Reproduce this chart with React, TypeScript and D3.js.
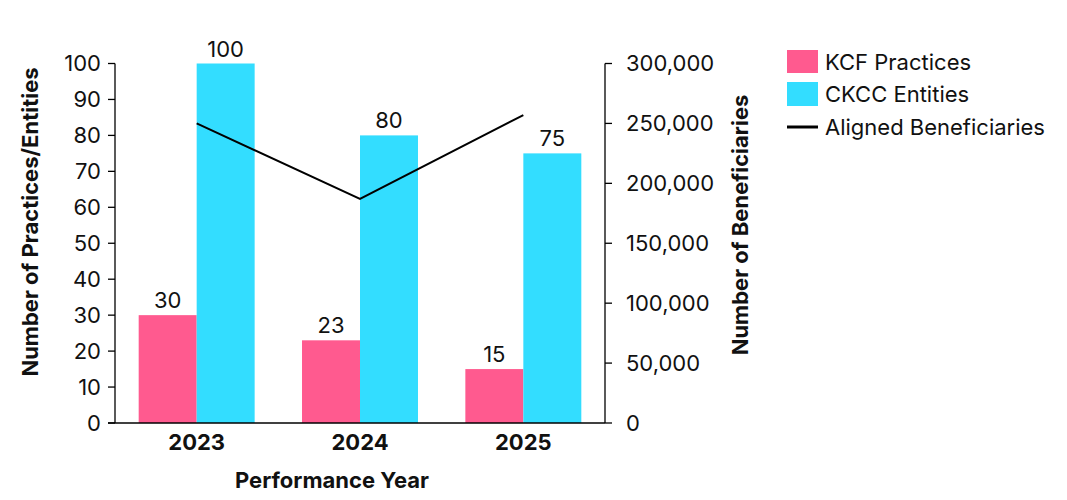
import * as d3 from 'd3'

const YEARS = ['2023', '2024', '2025']
const KCF_PRACTICES = [30, 23, 15]
const CKCC_ENTITIES = [100, 80, 75]
const ALIGNED_BENEFICIARIES = [250000, 187000, 257000]
const LEFT_TICKS = [0, 10, 20, 30, 40, 50, 60, 70, 80, 90, 100]
const RIGHT_TICKS = [0, 50000, 100000, 150000, 200000, 250000, 300000]

const PINK = '#ff5a8f'
const CYAN = '#33ddff'
const FONT = 'Inter, "Noto Sans", sans-serif'
const FS = 22

const WIDTH = 1067
const HEIGHT = 500
const PLOT_LEFT = 115
const PLOT_RIGHT = 605
const PLOT_TOP = 63.5
const PLOT_BOTTOM = 423

export default function App() {
  const x = d3.scaleBand<string>().domain(YEARS).range([PLOT_LEFT, PLOT_RIGHT])
  const bw = x.bandwidth()
  const barWidth = bw * 0.355
  const yLeft = d3.scaleLinear().domain([0, 100]).range([PLOT_BOTTOM, PLOT_TOP])
  const yRight = d3.scaleLinear().domain([0, 300000]).range([PLOT_BOTTOM, PLOT_TOP])
  const fmt = d3.format(',')

  const line = d3
    .line<number>()
    .x((_, i) => (x(YEARS[i]) ?? 0) + bw / 2)
    .y((d) => yRight(d))

  const series = [
    { values: KCF_PRACTICES, color: PINK, offset: -1 },
    { values: CKCC_ENTITIES, color: CYAN, offset: 0 },
  ]

  return (
    <svg
      width={WIDTH}
      height={HEIGHT}
      style={{ position: 'absolute', left: 0, top: 0, fontFamily: FONT }}
    >
      <rect width={WIDTH} height={HEIGHT} fill="#fff" />

      {/* bars + value labels */}
      {series.map((s) =>
        s.values.map((v, i) => {
          const cx = (x(YEARS[i]) ?? 0) + bw / 2
          const bx = cx + s.offset * barWidth
          return (
            <g key={`${s.color}-${i}`}>
              <rect
                x={bx}
                y={yLeft(v)}
                width={barWidth}
                height={PLOT_BOTTOM - yLeft(v)}
                fill={s.color}
              />
              <text
                x={bx + barWidth / 2}
                y={yLeft(v) - 7}
                textAnchor="middle"
                fontSize={FS}
                fill="#111"
              >
                {v}
              </text>
            </g>
          )
        })
      )}

      {/* line */}
      <path d={line(ALIGNED_BENEFICIARIES) ?? ''} fill="none" stroke="#000" strokeWidth={2} />

      {/* bottom axis */}
      <line x1={108} x2={PLOT_RIGHT} y1={PLOT_BOTTOM} y2={PLOT_BOTTOM} stroke="#000" strokeWidth={1.3} />
      {YEARS.map((yr) => (
        <text
          key={yr}
          x={(x(yr) ?? 0) + bw / 2}
          y={450}
          textAnchor="middle"
          fontSize={FS}
          fontWeight={700}
          fill="#111"
        >
          {yr}
        </text>
      ))}
      <text x={332} y={488} textAnchor="middle" fontSize={FS} fontWeight={700} fill="#111">
        Performance Year
      </text>

      {/* left axis */}
      <line x1={PLOT_LEFT} x2={PLOT_LEFT} y1={PLOT_TOP} y2={PLOT_BOTTOM} stroke="#000" strokeWidth={1.3} />
      {LEFT_TICKS.map((t) => (
        <g key={t} transform={`translate(0,${yLeft(t)})`}>
          <line x1={108} x2={PLOT_LEFT} stroke="#000" strokeWidth={1.3} />
          <text x={101} dy="0.36em" textAnchor="end" fontSize={FS} fill="#111">
            {t}
          </text>
        </g>
      ))}
      <text
        transform="translate(38,222) rotate(-90)"
        textAnchor="middle"
        fontSize={FS}
        fontWeight={700}
        fill="#111"
      >
        Number of Practices/Entities
      </text>

      {/* right axis */}
      <line x1={PLOT_RIGHT} x2={PLOT_RIGHT} y1={PLOT_TOP} y2={PLOT_BOTTOM} stroke="#000" strokeWidth={1.3} />
      {RIGHT_TICKS.map((t) => (
        <g key={t} transform={`translate(0,${yRight(t)})`}>
          <line x1={PLOT_RIGHT} x2={PLOT_RIGHT + 7} stroke="#000" strokeWidth={1.3} />
          <text x={626} dy="0.36em" textAnchor="start" fontSize={FS} fill="#111">
            {fmt(t)}
          </text>
        </g>
      ))}
      <text
        transform="translate(748,225) rotate(-90)"
        textAnchor="middle"
        fontSize={FS}
        fontWeight={700}
        fill="#111"
      >
        Number of Beneficiaries
      </text>

      {/* legend */}
      <g fontSize={FS} fill="#111">
        <rect x={787} y={50} width={31} height={23} fill={PINK} />
        <text x={825} y={62} dy="0.36em">KCF Practices</text>
        <rect x={787} y={82} width={31} height={24} fill={CYAN} />
        <text x={825} y={94} dy="0.36em">CKCC Entities</text>
        <line x1={787} x2={818} y1={127} y2={127} stroke="#000" strokeWidth={3} />
        <text x={825} y={127} dy="0.36em">Aligned Beneficiaries</text>
      </g>
    </svg>
  )
}
